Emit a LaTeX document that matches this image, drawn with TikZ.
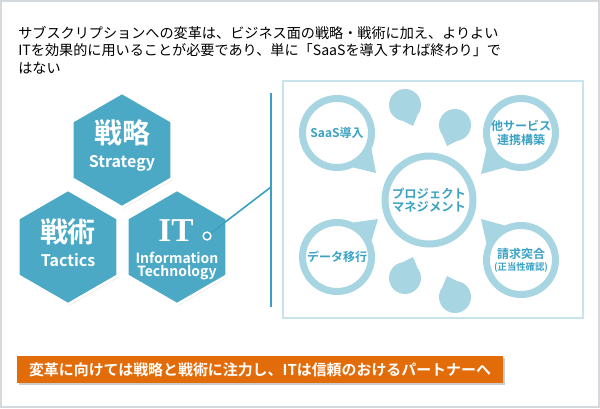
\documentclass[tikz,border=0pt]{standalone}
\usepackage{fontspec}
\setmainfont{Noto Sans CJK JP}[BoldFont={Noto Sans CJK JP Bold}]
\newfontfamily\itserif{Liberation Serif}
\usetikzlibrary{shapes.geometric,shadows,positioning}
\definecolor{hexteal}{HTML}{4BA9C5}
\definecolor{linkteal}{HTML}{3A9FC2}
\definecolor{ringblue}{HTML}{A8D5E2}
\definecolor{bubtext}{HTML}{3BA2C4}
\definecolor{panelline}{HTML}{C8E3EB}
\definecolor{bannerorange}{HTML}{E36C0A}
\definecolor{framegray}{HTML}{D5D9DD}

\begin{document}
\begin{tikzpicture}[x=0.75pt, y=-0.75pt,
    hexbox/.style={regular polygon, regular polygon sides=6, shape border rotate=90,
                   minimum size=86pt, inner sep=0pt, fill=hexteal, draw=white, line width=2pt,
                   drop shadow={shadow xshift=0.9pt, shadow yshift=-0.9pt, fill=black!35, opacity=0.45}},
    hexjp/.style={text=white, inner sep=0pt, font=\fontsize{21}{21}\selectfont\bfseries},
    hexen/.style={text=white, inner sep=0pt, font=\fontsize{12}{13}\selectfont\bfseries},
    hexsm/.style={text=white, inner sep=0pt, font=\fontsize{10.5}{11.5}\selectfont\bfseries},
    ringbub/.style={circle, draw=ringblue, fill=white, line width=5.25pt, minimum size=51.75pt,
                    inner sep=0pt, text=bubtext, align=center,
                    font=\fontsize{9}{11}\selectfont\bfseries},
    dotbub/.style={circle, fill=ringblue, minimum size=24pt, inner sep=0pt},
    tail/.style={fill=ringblue},
    link/.style={draw=linkteal, line width=1.2pt},
  ]
    \useasboundingbox (0,0) rectangle (600,408);
    \draw[framegray, line width=1.2pt] (1,1) rectangle (599,407);

    % ---- headline ----
    \node[anchor=north west, align=left, inner sep=0pt,
          font=\fontsize{10.6}{13.2}\selectfont] (title) at (18,26)
        {サブスクリプションへの変革は、ビジネス面の戦略・戦術に加え、よりよい\\
         ITを効果的に用いることが必要であり、単に「SaaSを導入すれば終わり」で\\
         はない};

    % ---- three hexagons ----
    \node[hexbox] (strat) at (122,150) {};
    \node[hexbox] (tact)  at (68,247)  {};
    \node[hexbox] (itech) at (177,247) {};

    \node[hexjp] (stratjp) at (122,133) {戦略};
    \node[hexen] (straten) at (122,163) {Strategy};
    \node[hexjp] (tactjp)  at (68,232)  {戦術};
    \node[hexen] (tacten)  at (68,260)  {Tactics};
    \node[text=white, inner sep=0pt, font=\fontsize{25}{25}\selectfont\itserif\bfseries]
        (itjp) at (176,231) {IT};
    \node[hexsm] (itinfo) at (177,258) {Information};
    \node[hexsm] (ittech) at (177,273) {Technology};

    % ---- link to the panel ----
    \coordinate (vtop)  at (271,93);
    \coordinate (vbot)  at (271,307);
    \coordinate (vjoin) at (271,187);
    \node[circle, fill=white, minimum size=7pt, inner sep=0pt,
          drop shadow={shadow xshift=0.3pt, shadow yshift=-0.3pt, fill=black!35, opacity=0.5}]
        (itdot) at (207,236) {};
    \fill[linkteal] (itdot.center) circle (2.2pt);
    \draw[link] (vtop) -- (vbot);
    \draw[link] (itdot) -- (vjoin);

    % ---- right panel ----
    \node[draw=panelline, line width=0.9pt, minimum width=225pt, minimum height=177.75pt,
          inner sep=0pt] (panel) at (433,199.5) {};

    % small bubbles
    \node[dotbub] (dota) at (405,105) {};
    \node[dotbub] (dotb) at (455,125) {};
    \node[dotbub] (dotc) at (405,278) {};
    \node[dotbub] (dotd) at (455,297) {};
    \coordinate (tipa) at (413,126);
    \coordinate (tipb) at (447,146);
    \coordinate (tipc) at (413,257);
    \coordinate (tipd) at (447,276);
    \fill[tail] (dota.-40) -- (tipa) -- (dota.-95) -- cycle;
    \fill[tail] (dotb.-140) -- (tipb) -- (dotb.-85) -- cycle;
    \fill[tail] (dotc.40) -- (tipc) -- (dotc.95) -- cycle;
    \fill[tail] (dotd.140) -- (tipd) -- (dotd.85) -- cycle;

    % ring bubbles
    \coordinate (tipsaas) at (376,173);
    \coordinate (tipsvc)  at (481,174);
    \coordinate (tipdata) at (378,219);
    \coordinate (tipbill) at (481,219);
    \node[ringbub] (saas) at (337,133) {SaaS導入};
    \node[ringbub] (svc)  at (521,133) {他サービス\\連携構築};
    \node[ringbub] (data) at (337,257) {データ移行};
    \node[ringbub] (bill) at (521,260)
        {請求突合\\[-2pt]{\fontsize{7}{8}\selectfont(正当性確認)}};
    \fill[tail] (saas.-25)  -- (tipsaas) -- (saas.-65)  -- cycle;
    \fill[tail] (svc.-155)  -- (tipsvc)  -- (svc.-115)  -- cycle;
    \fill[tail] (data.25)   -- (tipdata) -- (data.65)   -- cycle;
    \fill[tail] (bill.155)  -- (tipbill) -- (bill.115)  -- cycle;

    \node[ringbub, minimum size=66pt, font=\fontsize{9.2}{10}\selectfont\bfseries]
        (pm) at (429,200) {プロジェクト\\マネジメント};

    % ---- bottom banner ----
    \node[fill=bannerorange, text=white, minimum width=364.5pt, minimum height=20.25pt,
          inner sep=0pt, font=\fontsize{11.2}{12}\selectfont\bfseries,
          drop shadow={shadow xshift=1.2pt, shadow yshift=-1.2pt, fill=black!40, opacity=0.5}]
        (banner) at (260,369.5) {変革に向けては戦略と戦術に注力し、ITは信頼のおけるパートナーへ};
\end{tikzpicture}
\end{document}
